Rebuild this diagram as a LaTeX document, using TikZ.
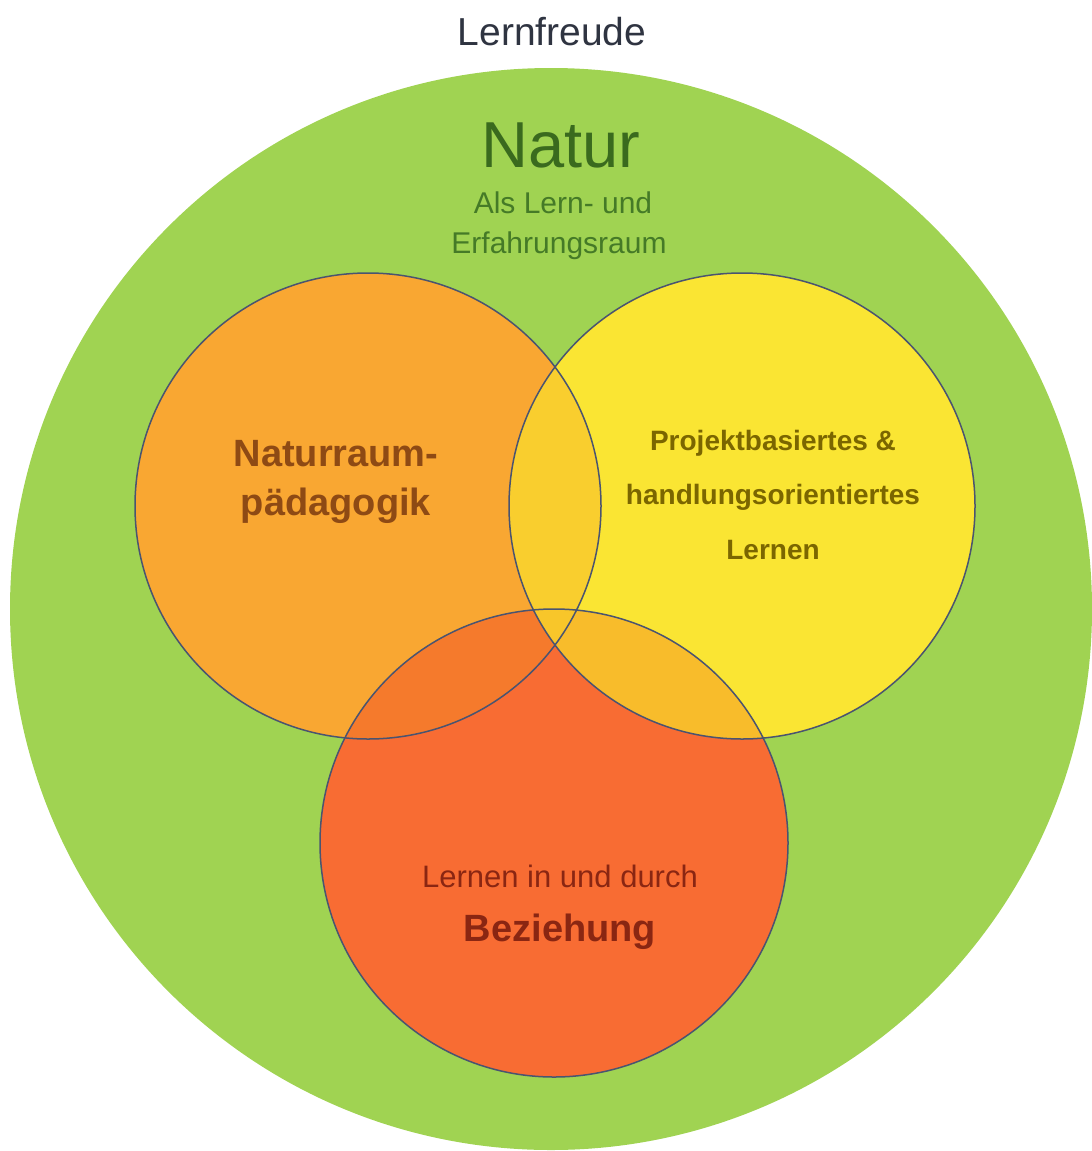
\documentclass[tikz,border=0pt]{standalone}
\usepackage{fontspec}
\setmainfont{Liberation Sans}
\begin{document}
\begin{tikzpicture}[x=1pt,y=-1pt,
  ring/.style={draw=rimc,line width=1.5pt},
  lbl/.style={anchor=base,inner sep=0pt,align=center}]
\definecolor{greenc}{HTML}{A0D352}
\definecolor{orangec}{HTML}{F9A732}
\definecolor{yellowc}{HTML}{FAE533}
\definecolor{redc}{HTML}{F86C33}
\definecolor{oyc}{HTML}{F9CE2E}
\definecolor{orc}{HTML}{F57A2C}
\definecolor{yrc}{HTML}{F8BC2B}
\definecolor{allc}{HTML}{F8C62A}
\definecolor{rimc}{HTML}{4A5470}
\definecolor{titlec}{HTML}{2F3441}
\definecolor{naturc}{HTML}{3A6A1E}
\definecolor{subc}{HTML}{457A27}
\definecolor{brownc}{HTML}{8E4A14}
\definecolor{olivec}{HTML}{7B6600}
\definecolor{darkredc}{HTML}{8A2612}
\useasboundingbox (0,0) rectangle (1092,1151);
\coordinate (G) at (551,609);
\coordinate (O) at (368,506);
\coordinate (Y) at (742,506);
\coordinate (R) at (554,843);
\fill[greenc] (G) circle (541);
\fill[orangec] (O) circle (233);
\fill[yellowc] (Y) circle (233);
\fill[redc] (R) circle (234);
\begin{scope}
  \clip (O) circle (233);
  \fill[oyc] (Y) circle (233);
  \fill[orc] (R) circle (234);
  \clip (Y) circle (233);
  \fill[allc] (R) circle (234);
\end{scope}
\begin{scope}
  \clip (Y) circle (233);
  \clip (R) circle (234);
  \fill[yrc] (R) circle (234);
  \clip (O) circle (233);
  \fill[allc] (R) circle (234);
\end{scope}
\draw[ring] (O) circle (233);
\draw[ring] (Y) circle (233);
\draw[ring] (R) circle (234);
\node[lbl,text=titlec,font=\fontsize{39}{42}\selectfont] (t1) at (552,45) {Lernfreude};
\node[lbl,text=naturc,font=\fontsize{65}{70}\selectfont] (t2) at (561,167) {Natur};
\node[lbl,text=subc,font=\fontsize{30}{34}\selectfont] (t3) at (563,213) {Als Lern- und};
\node[lbl,text=subc,font=\fontsize{30}{34}\selectfont] (t4) at (559,253) {Erfahrungsraum};
\node[lbl,text=brownc,font=\bfseries\fontsize{38}{40}\selectfont] (t5) at (336,466) {Naturraum-};
\node[lbl,text=brownc,font=\bfseries\fontsize{38}{40}\selectfont] (t6) at (336,515) {pädagogik};
\node[lbl,text=olivec,font=\bfseries\fontsize{28}{32}\selectfont] (t7) at (773,450) {Projektbasiertes \&};
\node[lbl,text=olivec,font=\bfseries\fontsize{28}{32}\selectfont] (t8) at (773,504) {handlungsorientiertes};
\node[lbl,text=olivec,font=\bfseries\fontsize{28}{32}\selectfont] (t9) at (773,559) {Lernen};
\node[lbl,text=darkredc,font=\fontsize{31}{34}\selectfont] (t10) at (560,887) {Lernen in und durch};
\node[lbl,text=darkredc,font=\bfseries\fontsize{38}{40}\selectfont] (t11) at (560,941) {Beziehung};
\end{tikzpicture}
\end{document}
